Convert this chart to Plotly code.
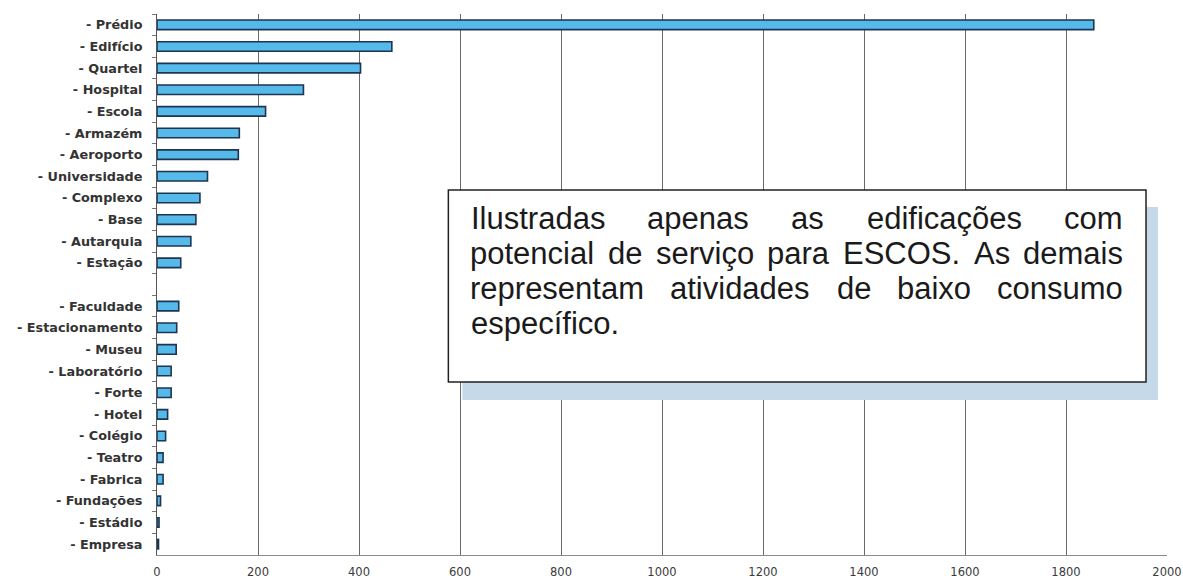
import plotly.graph_objects as go

# ---------------- data ----------------
categories = ["- Prédio", "- Edifício", "- Quartel", "- Hospital", "- Escola", "- Armazém",
              "- Aeroporto", "- Universidade", "- Complexo", "- Base", "- Autarquia", "- Estação",
              " ",
              "- Faculdade", "- Estacionamento", "- Museu", "- Laboratório", "- Forte", "- Hotel",
              "- Colégio", "- Teatro", "- Fabrica", "- Fundações", "- Estádio", "- Empresa"]
values = [1855, 465, 403, 290, 215, 163,
          161, 100, 85, 77, 67, 47,
          None,
          43, 39, 38, 28, 28, 21,
          17, 12, 12, 7, 4, 3]
x_ticks = [0, 200, 400, 600, 800, 1000, 1200, 1400, 1600, 1800, 2000]

note_lines = [
    "Ilustradas apenas as edificações com",
    "potencial de serviço para ESCOS. As demais",
    "representam atividades de baixo consumo",
    "específico.",
]

# ---------------- layout geometry (pixels) ----------------
W, H = 1183, 580
ML, MR, MT, MB = 156.5, 16, 14, 25
PW, PH = W - ML - MR, H - MT - MB


def px(xp):
    return (xp - ML) / PW


def py(yp):
    return 1 - (yp - MT) / PH


fig = go.Figure()
fig.add_trace(go.Bar(
    y=categories, x=values, orientation="h", width=0.44,
    marker=dict(color="#55b9ea", line=dict(color="#1d3550", width=1.6)),
    hoverinfo="x+y",
))

fig.update_layout(
    width=W, height=H,
    margin=dict(l=ML, r=MR, t=MT, b=MB, pad=0, autoexpand=False),
    paper_bgcolor="white", plot_bgcolor="white",
    showlegend=False,
)
fig.update_xaxes(
    range=[0, 2000], tickvals=x_ticks, ticktext=[str(v) for v in x_ticks],
    showgrid=True, gridcolor="#6a6a6a", gridwidth=1,
    showline=True, linecolor="#8a8a8a", linewidth=1,
    ticks="", zeroline=False, automargin=False, ticklabelstandoff=6,
    tickfont=dict(family="DejaVu Sans", size=11.5, color="#3a3a3a"),
)
fig.update_yaxes(
    type="category", categoryorder="array", categoryarray=categories,
    autorange="reversed", automargin=False,
    showgrid=False, showline=True, linecolor="#555555", linewidth=1,
    ticks="outside", ticklen=4, tickcolor="#777777", tickson="boundaries",
    ticklabelstandoff=11,
    tickfont=dict(family="DejaVu Sans", size=12.8, color="#333333", weight="bold"),
)

# ---------------- note box ----------------
fig.add_shape(type="rect", xref="paper", yref="paper", layer="above",
              x0=px(462), x1=px(1158), y0=py(400), y1=py(207),
              fillcolor="#c6d9e8", line=dict(width=0))
fig.add_shape(type="rect", xref="paper", yref="paper", layer="above",
              x0=px(448), x1=px(1146), y0=py(382), y1=py(190),
              fillcolor="white", line=dict(color="#222222", width=1.5))

# justified text: Arial widths (per 1000 em)
aw = {"a": 556, "b": 556, "c": 500, "d": 556, "e": 556, "f": 278, "i": 222, "l": 222,
      "m": 833, "n": 556, "o": 556, "p": 556, "r": 333, "s": 500, "t": 278, "u": 556,
      "v": 500, "x": 500, "ç": 500, "õ": 556, "í": 278, "I": 278, "E": 667, "S": 667,
      "C": 722, "O": 778, "A": 667, ".": 278}
FS = 31
TX0, TX1 = 470, 1123
line_y = [218, 253, 288, 323]
font = dict(family="Liberation Sans, Arial", size=FS, color="#1a1a1a")

for i, line in enumerate(note_lines):
    words = line.split(" ")
    if i == len(note_lines) - 1:
        fig.add_annotation(text=line, xref="paper", yref="paper", x=px(TX0), y=py(line_y[i]),
                           xanchor="left", yanchor="middle", showarrow=False, font=font,
                           borderpad=0)
        continue
    widths = [sum(aw.get(ch, 556) for ch in w) * FS / 1000 for w in words]
    gap = (TX1 - TX0 - sum(widths)) / (len(words) - 1)
    xc = TX0
    for w, wd in zip(words, widths):
        fig.add_annotation(text=w, xref="paper", yref="paper", x=px(xc + wd / 2), y=py(line_y[i]),
                           xanchor="center", yanchor="middle", showarrow=False, font=font,
                           borderpad=0)
        xc += wd + gap

fig.write_html("out.html", config={"displayModeBar": False},
               post_script="document.body.style.margin='0';document.body.style.overflow='hidden';")
